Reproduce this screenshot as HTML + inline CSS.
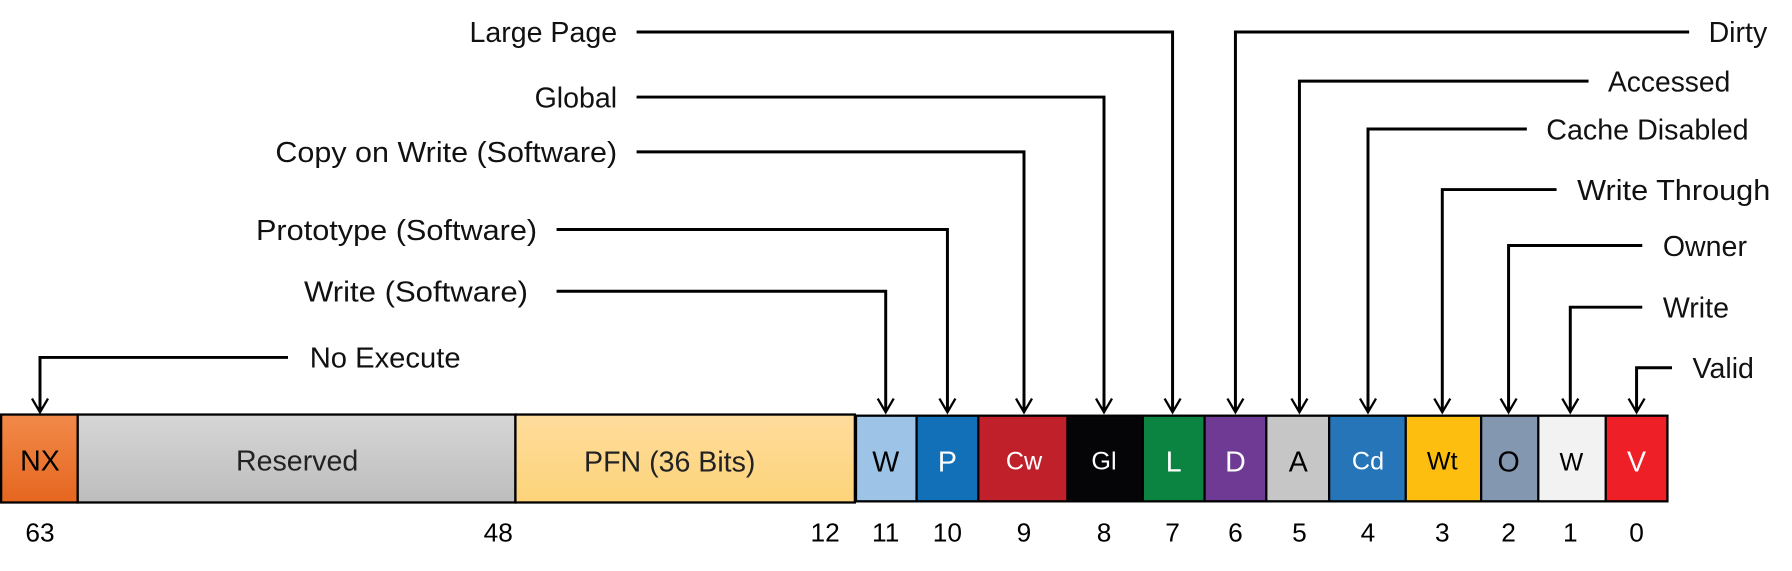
<!DOCTYPE html>
<html><head><meta charset="utf-8"><style>
html,body{margin:0;padding:0;background:#fff;}
svg{display:block;}
text{font-family:"Liberation Sans",sans-serif;}
</style></head><body>
<svg width="1792" height="571" viewBox="0 0 1568 500" preserveAspectRatio="none" xmlns="http://www.w3.org/2000/svg">
<defs>
<linearGradient id="gnx" x1="0" y1="0" x2="0" y2="1"><stop offset="0" stop-color="#f28a4a"/><stop offset="1" stop-color="#e5661f"/></linearGradient>
<linearGradient id="grs" x1="0" y1="0" x2="0" y2="1"><stop offset="0" stop-color="#d6d6d6"/><stop offset="1" stop-color="#bdbdbd"/></linearGradient>
<linearGradient id="gpf" x1="0" y1="0" x2="0" y2="1"><stop offset="0" stop-color="#fedc9c"/><stop offset="1" stop-color="#fdd47a"/></linearGradient>
</defs>
<g stroke="#000" stroke-width="2">
<rect x="1" y="363" width="67" height="77" fill="url(#gnx)"/>
<rect x="68" y="363" width="383" height="77" fill="url(#grs)"/>
<rect x="451" y="363" width="297" height="77" fill="url(#gpf)"/>
</g>
<rect x="748" y="363" width="712" height="77" fill="#000"/>
<g>
<rect x="750" y="365" width="51" height="73" fill="#9dc3e6"/>
<rect x="803" y="365" width="52" height="73" fill="#1170b8"/>
<rect x="857" y="365" width="76" height="73" fill="#c0202a"/>
<rect x="935" y="365" width="64" height="73" fill="#050507"/>
<rect x="1001" y="365" width="52" height="73" fill="#0b8442"/>
<rect x="1055" y="365" width="52" height="73" fill="#6e3a93"/>
<rect x="1109" y="365" width="53" height="73" fill="#c6c6c6"/>
<rect x="1164" y="365" width="65" height="73" fill="#2575b8"/>
<rect x="1231" y="365" width="64" height="73" fill="#fdbe10"/>
<rect x="1297" y="365" width="48" height="73" fill="#8497b0"/>
<rect x="1347" y="365" width="57" height="73" fill="#f2f2f2"/>
<rect x="1406" y="365" width="52" height="73" fill="#ee1f26"/>
</g>
<g font-size="25" text-anchor="middle">
<text x="35" y="412">NX</text>
<text x="260" y="412" fill="#222">Reserved</text>
<text x="586" y="413" fill="#222">PFN (36 Bits)</text>
<text x="775" y="413">W</text>
<text x="829" y="413" fill="#fff">P</text>
<text x="896" y="411" fill="#fff" font-size="22">Cw</text>
<text x="966" y="411" fill="#fff" font-size="22">Gl</text>
<text x="1027" y="413" fill="#fff">L</text>
<text x="1081" y="413" fill="#fff">D</text>
<text x="1136" y="413">A</text>
<text x="1197" y="411" fill="#fff" font-size="22">Cd</text>
<text x="1262" y="411" font-size="22">Wt</text>
<text x="1320" y="413">O</text>
<text x="1375" y="412" font-size="22">W</text>
<text x="1432" y="413" fill="#fff">V</text>
</g>
<g font-size="23" text-anchor="middle" style="font-family:'Liberation Mono',monospace">
<text x="35" y="474">63</text><text x="436" y="474">48</text><text x="722" y="474">12</text>
<text x="775" y="474">11</text><text x="829" y="474">10</text><text x="896" y="474">9</text>
<text x="966" y="474">8</text><text x="1026" y="474">7</text><text x="1081" y="474">6</text>
<text x="1137" y="474">5</text><text x="1197" y="474">4</text><text x="1262" y="474">3</text>
<text x="1320" y="474">2</text><text x="1374" y="474">1</text><text x="1432" y="474">0</text>
</g>
<g fill="none" stroke="#000" stroke-width="2.6">
<polyline points="252,313 35,313 35,360"/>
<polyline points="487,255 775,255 775,360"/>
<polyline points="487,201 829,201 829,360"/>
<polyline points="557,133 896,133 896,360"/>
<polyline points="557,85 966,85 966,360"/>
<polyline points="557,28 1026,28 1026,360"/>
<polyline points="1478,28 1081,28 1081,360"/>
<polyline points="1390,71 1137,71 1137,360"/>
<polyline points="1336,113 1197,113 1197,360"/>
<polyline points="1362,166 1262,166 1262,360"/>
<polyline points="1437,215 1320,215 1320,360"/>
<polyline points="1437,269 1374,269 1374,360"/>
<polyline points="1463,322 1432,322 1432,360"/>
</g>
<g fill="none" stroke="#000" stroke-width="2">
<polyline points="28,349 35,361 42,349"/>
<polyline points="768,349 775,361 782,349"/>
<polyline points="822,349 829,361 836,349"/>
<polyline points="889,349 896,361 903,349"/>
<polyline points="959,349 966,361 973,349"/>
<polyline points="1019,349 1026,361 1033,349"/>
<polyline points="1074,349 1081,361 1088,349"/>
<polyline points="1130,349 1137,361 1144,349"/>
<polyline points="1190,349 1197,361 1204,349"/>
<polyline points="1255,349 1262,361 1269,349"/>
<polyline points="1313,349 1320,361 1327,349"/>
<polyline points="1367,349 1374,361 1381,349"/>
<polyline points="1425,349 1432,361 1439,349"/>
</g>
<g font-size="25" fill="#111">
<g text-anchor="end">
<text x="540" y="37">Large Page</text>
<text x="540" y="94">Global</text>
<text x="540" y="142" textLength="299" lengthAdjust="spacingAndGlyphs">Copy on Write (Software)</text>
<text x="470" y="210" textLength="246" lengthAdjust="spacingAndGlyphs">Prototype (Software)</text>
<text x="462" y="264" textLength="196" lengthAdjust="spacingAndGlyphs">Write (Software)</text>
</g>
<text x="271" y="322" textLength="132" lengthAdjust="spacingAndGlyphs">No Execute</text>
<text x="1495" y="37">Dirty</text>
<text x="1407" y="80" textLength="107" lengthAdjust="spacingAndGlyphs">Accessed</text>
<text x="1353" y="122" textLength="177" lengthAdjust="spacingAndGlyphs">Cache Disabled</text>
<text x="1380" y="175" textLength="169" lengthAdjust="spacingAndGlyphs">Write Through</text>
<text x="1455" y="224">Owner</text>
<text x="1455" y="278">Write</text>
<text x="1481" y="331">Valid</text>
</g>
</svg>
</body></html>
